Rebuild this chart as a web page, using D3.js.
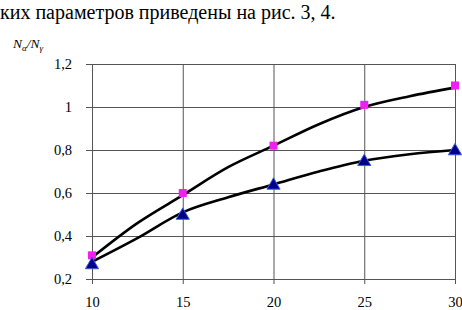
<!DOCTYPE html>
<html>
  <head>
    <meta charset="utf-8">
    <style type="text/css">
      body {
        margin: 0;
        background: #fff;
      }
      svg text {
        font-family: 'Liberation Serif', 'Tinos', 'Times New Roman', 'DejaVu Serif', serif;
      }
      .axis text {
        font-size: 14.5px;
        fill: #000;
      }
      .axis path {
        display: none;
      }
      .axis line, .grid line {
        stroke: #555;
        stroke-width: 1px;
      }
      .trend {
        fill: none;
        stroke: #000;
        stroke-width: 2.6px;
      }
    </style>
  </head>
  <body>
    <script src="https://d3js.org/d3.v7.min.js"></script>
    <script>
    // data
    var xValues = [10, 15, 20, 25, 30];
    var ratioSquares = [0.31, 0.60, 0.82, 1.01, 1.10];
    var ratioTriangles = [0.27, 0.50, 0.64, 0.75, 0.80];

    // smooth trend curves (as drawn in the figure)
    var curveX = [10, 12.5, 15, 17.5, 20, 22.5, 25, 27.5, 30];
    var curveUpper = [0.30, 0.46, 0.59, 0.72, 0.82, 0.92, 1.00, 1.05, 1.09];
    var curveLower = [0.28, 0.39, 0.51, 0.58, 0.64, 0.70, 0.75, 0.78, 0.80];

    var xTicks = [10, 15, 20, 25, 30];
    var yTicks = [0.2, 0.4, 0.6, 0.8, 1, 1.2];

    var width = 462, height = 310;
    var serif = "'Liberation Serif', 'Tinos', 'Times New Roman', 'DejaVu Serif', serif";

    var x = d3.scaleLinear()
        .domain([10, 30])
        .range([92, 455]);

    var y = d3.scaleLinear()
        .domain([0.2, 1.2])
        .range([279, 64]);

    var fmt = function(d) { return String(d).replace(".", ","); };

    var svg = d3.select("body").append("svg")
        .attr("width", width)
        .attr("height", height)
        .attr("font-family", serif);

    // caption line above the figure
    svg.append("text")
        .attr("x", 0)
        .attr("y", 19)
        .style("font-family", serif)
        .style("font-size", "20px")
        .text("ких параметров приведены на рис. 3, 4.");

    // horizontal grid
    svg.append("g")
        .attr("class", "grid")
        .selectAll("line")
        .data(yTicks)
        .enter().append("line")
          .attr("x1", x(10))
          .attr("x2", x(30))
          .attr("y1", function(d) { return y(d) + 0.5; })
          .attr("y2", function(d) { return y(d) + 0.5; });

    // vertical grid
    svg.append("g")
        .attr("class", "grid")
        .selectAll("line")
        .data(xTicks)
        .enter().append("line")
          .attr("x1", function(d) { return x(d) + 0.5; })
          .attr("x2", function(d) { return x(d) + 0.5; })
          .attr("y1", y(1.2))
          .attr("y2", y(0.2));

    var xAxis = d3.axisBottom(x)
        .tickValues(xTicks)
        .tickSize(5)
        .tickPadding(13)
        .tickFormat(fmt);

    var yAxis = d3.axisLeft(y)
        .tickValues(yTicks)
        .tickSize(6)
        .tickPadding(14)
        .tickFormat(fmt);

    svg.append("g")
        .attr("class", "x axis")
        .attr("transform", "translate(0," + y(0.2) + ")")
        .call(xAxis)
        .attr("font-family", serif);

    svg.append("g")
        .attr("class", "y axis")
        .attr("transform", "translate(" + x(10) + ",0)")
        .call(yAxis)
        .attr("font-family", serif);

    svg.selectAll(".axis text").style("font-family", serif);

    // y axis title N_alpha / N_gamma
    var title = svg.append("text")
        .attr("x", 13)
        .attr("y", 48)
        .style("font-family", serif)
        .style("font-size", "13.5px")
        .style("font-style", "italic");
    title.append("tspan").text("N");
    title.append("tspan").attr("dy", 3).style("font-size", "9px").text("α");
    title.append("tspan").attr("dy", -3).text("/N");
    title.append("tspan").attr("dy", 3).style("font-size", "9px").text("γ");

    var line = d3.line()
        .x(function(d) { return x(d[0]); })
        .y(function(d) { return y(d[1]); })
        .curve(d3.curveCatmullRom);

    svg.append("path")
        .attr("class", "trend")
        .attr("d", line(d3.zip(curveX, curveUpper)));

    svg.append("path")
        .attr("class", "trend")
        .attr("d", line(d3.zip(curveX, curveLower)));

    // pink squares
    svg.selectAll("rect.sq")
        .data(d3.zip(xValues, ratioSquares))
        .enter().append("rect")
          .attr("class", "sq")
          .attr("x", function(d) { return x(d[0]) - 4; })
          .attr("y", function(d) { return y(d[1]) - 4; })
          .attr("width", 8)
          .attr("height", 8)
          .attr("fill", "#f020f0");

    // blue triangles
    var tri = d3.symbol().type(d3.symbolTriangle).size(75);
    svg.selectAll("path.tri")
        .data(d3.zip(xValues, ratioTriangles))
        .enter().append("path")
          .attr("class", "tri")
          .attr("d", tri)
          .attr("transform", function(d) { return "translate(" + x(d[0]) + "," + (y(d[1]) + 1) + ")"; })
          .attr("fill", "#00008b")
          .attr("stroke", "#3a5bd6")
          .attr("stroke-width", 1);
    </script>
  </body>
</html>
